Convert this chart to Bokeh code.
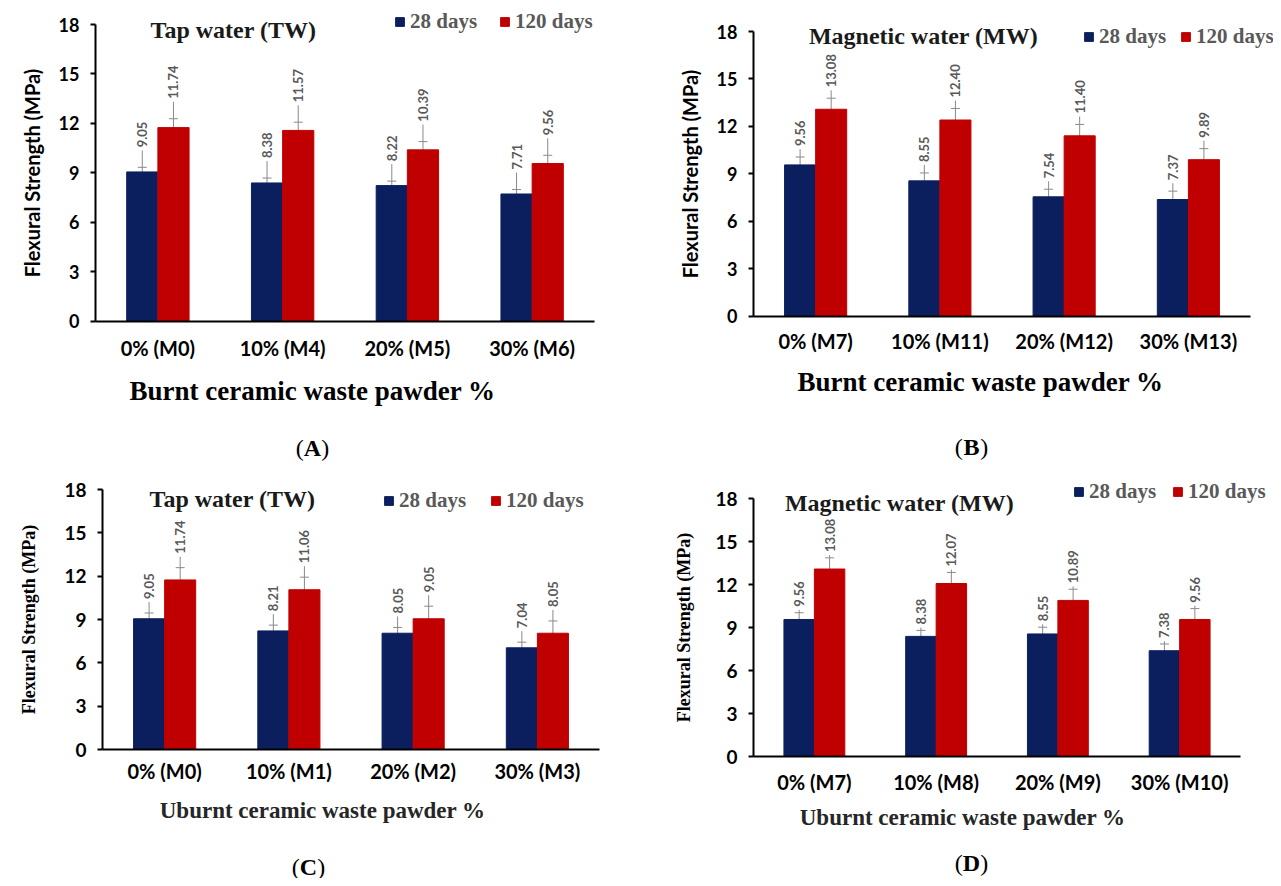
import math
from bokeh.plotting import figure
from bokeh.models import (Range1d, FixedTicker, Whisker, TeeHead, ColumnDataSource,
                          Label, Legend, LegendItem)
from bokeh.transform import dodge
from bokeh.layouts import column, row
from bokeh.core.properties import value
from bokeh.embed import file_html
from bokeh.resources import INLINE

# ---------------- data ----------------
series_names = ["28 days", "120 days"]
y_ticks = [0, 3, 6, 9, 12, 15, 18]

cats_A = ["0% (M0)", "10% (M4)", "20% (M5)", "30% (M6)"]
A_28 = [9.05, 8.38, 8.22, 7.71]
A_120 = [11.74, 11.57, 10.39, 9.56]
A_err28 = [0.28, 0.30, 0.27, 0.27]
A_err120 = [0.54, 0.50, 0.50, 0.50]

cats_B = ["0% (M7)", "10% (M11)", "20% (M12)", "30% (M13)"]
B_28 = [9.56, 8.55, 7.54, 7.37]
B_120 = [13.08, 12.40, 11.40, 9.89]
B_err28 = [0.50, 0.50, 0.48, 0.53]
B_err120 = [0.70, 0.73, 0.72, 0.70]

cats_C = ["0% (M0)", "10% (M1)", "20% (M2)", "30% (M3)"]
C_28 = [9.05, 8.21, 8.05, 7.04]
C_120 = [11.74, 11.06, 9.05, 8.05]
C_err28 = [0.40, 0.40, 0.40, 0.39]
C_err120 = [0.85, 0.87, 0.87, 0.85]

cats_D = ["0% (M7)", "10% (M8)", "20% (M9)", "30% (M10)"]
D_28 = [9.56, 8.38, 8.55, 7.38]
D_120 = [13.08, 12.07, 10.89, 9.56]
D_err28 = [0.47, 0.42, 0.47, 0.47]
D_err120 = [0.78, 0.77, 0.78, 0.76]

titles = ["Tap water (TW)", "Magnetic water (MW)", "Tap water (TW)", "Magnetic water (MW)"]
x_titles = ["Burnt ceramic waste pawder %", "Burnt ceramic waste pawder %",
            "Uburnt  ceramic waste pawder %", "Uburnt  ceramic waste pawder %"]
panel_letters = ["A", "B", "C", "D"]
y_title = "Flexural Strength (MPa)"

# ---------------- style ----------------
BLUE = "#0b1f5f"
RED = "#c00000"
GRAY = "#8a8a8a"
LABEL_GRAY = "#595959"
SANS = "Lato"
SERIF = "Liberation Serif"


def make_panel(cats, v28, v120, e28, e120, title, xtitle, letter, cfg):
    n = len(cats)
    figl, figt, figr, figb = cfg["fig"]
    xl, xr, y18, y0 = cfg["plot"]
    cw = (xr - xl) / n
    k = (y0 - y18) / y_ticks[-1]

    def X(px):
        return (px - xl) / cw

    def Y(py):
        return (y0 - py) / k

    p = figure(x_range=Range1d(X(figl), X(figr)), y_range=Range1d(Y(figb), Y(figt)),
               width=figr - figl, height=figb - figt, min_border=0,
               output_backend="svg", toolbar_location=None)
    p.outline_line_color = None
    p.xgrid.visible = False
    p.ygrid.visible = False
    p.background_fill_color = "white"
    p.border_fill_color = "white"

    lead = cfg["lead"]
    xpos = [i + 0.5 for i in range(n)]
    src = ColumnDataSource(dict(
        xpos=xpos, v28=v28, v120=v120,
        lo28=[v - e for v, e in zip(v28, e28)], up28=[v + e for v, e in zip(v28, e28)],
        lo120=[v - e for v, e in zip(v120, e120)], up120=[v + e for v, e in zip(v120, e120)],
        top28=[v + e + lead for v, e in zip(v28, e28)],
        top120=[v + e + lead for v, e in zip(v120, e120)],
        lab28=["%.2f" % v for v in v28], lab120=["%.2f" % v for v in v120],
    ))
    xb = dodge("xpos", -0.125)
    xrr = dodge("xpos", 0.125)
    r1 = p.vbar(x=xb, top="v28", width=0.25, source=src, fill_color=BLUE, line_color=BLUE)
    r2 = p.vbar(x=xrr, top="v120", width=0.25, source=src, fill_color=RED, line_color=RED)

    for xx, lo, up, top, lab in [(xb, "lo28", "up28", "top28", "lab28"),
                                 (xrr, "lo120", "up120", "top120", "lab120")]:
        w = Whisker(source=src, base=xx, lower=lo, upper=up, line_color=GRAY, line_width=1,
                    upper_head=TeeHead(size=9, line_color=GRAY, line_width=1),
                    lower_head=TeeHead(size=9, line_color=GRAY, line_width=1))
        p.add_layout(w)
        p.segment(x0=xx, y0=up, x1=xx, y1=top, source=src, line_color=GRAY, line_width=1)
        p.text(x=xx, y=top, text=lab, source=src, angle=math.pi / 2, text_align="left",
               text_baseline="middle", y_offset=-3, text_font=value(SANS),
               text_font_style="bold", text_font_size="13px", text_color=LABEL_GRAY)

    # y axis (drawn at the left edge of the first category)
    ax = p.yaxis[0]
    ax.fixed_location = 0
    ax.bounds = (y_ticks[0], y_ticks[-1])
    ax.ticker = FixedTicker(ticks=y_ticks)
    ax.minor_tick_line_color = None
    ax.major_tick_out = 5
    ax.major_tick_in = 0
    ax.major_tick_line_width = 2
    ax.axis_line_width = 2
    ax.axis_line_color = "black"
    ax.major_tick_line_color = "black"
    ax.major_label_text_font = SANS
    ax.major_label_text_font_style = "bold"
    ax.major_label_text_font_size = cfg["ytfs"]
    ax.major_label_text_color = "black"
    ax.major_label_standoff = cfg["ytstand"]
    ax.axis_label = y_title
    ax.axis_label_text_font = cfg["yfont"]
    ax.axis_label_text_font_style = "bold"
    ax.axis_label_text_font_size = cfg["yfs"]
    ax.axis_label_text_color = "black"
    ax.axis_label_standoff = cfg["ystand"]

    # x axis (drawn at y = 0)
    xa = p.xaxis[0]
    xa.fixed_location = 0
    xa.bounds = (0, n)
    xa.ticker = FixedTicker(ticks=xpos)
    xa.major_label_overrides = {x: c for x, c in zip(xpos, cats)}
    xa.major_tick_line_color = None
    xa.major_tick_out = 0
    xa.major_tick_in = 0
    xa.minor_tick_line_color = None
    xa.axis_line_width = 2
    xa.axis_line_color = "black"
    xa.major_label_text_font = SANS
    xa.major_label_text_font_style = "bold"
    xa.major_label_text_font_size = "20px"
    xa.major_label_text_color = "black"
    xa.major_label_standoff = cfg["xstand"]

    # legend
    lx_px, lcy_px = cfg["leg"]
    leg = Legend(items=[LegendItem(label=series_names[0], renderers=[r1]),
                        LegendItem(label=series_names[1], renderers=[r2])],
                 location=(lx_px - figl, figb - (lcy_px + 12)), orientation="horizontal",
                 glyph_width=11, glyph_height=11, label_standoff=5, spacing=cfg["legsp"],
                 padding=0, margin=0, border_line_color=None, background_fill_alpha=0,
                 label_text_font=SERIF, label_text_font_style="bold",
                 label_text_font_size="21px", label_text_color=LABEL_GRAY, label_height=20)
    p.add_layout(leg)

    # panel title inside plot
    tx, ty = cfg["title_at"]
    p.add_layout(Label(x=X(tx), y=Y(ty), text=title, text_font=SERIF, text_font_style="bold",
                       text_font_size="24px", text_color="#1a1a1a",
                       text_align="center", text_baseline="middle"))
    # x axis title
    qx, qy = cfg["xt_at"]
    p.add_layout(Label(x=X(qx), y=Y(qy), text=xtitle, text_font=SERIF, text_font_style="bold",
                       text_font_size=cfg["xtfs"], text_color=cfg["xtcol"],
                       text_align="center", text_baseline="middle"))
    # (A) letter: bold letter, regular parentheses
    lx, ly = cfg["letter_at"]
    half = 8.7
    common = dict(x=X(lx), y=Y(ly), text_font=SERIF, text_font_size="24px",
                  text_color="black", text_baseline="middle")
    p.add_layout(Label(text="(", text_align="right", x_offset=-half, **common))
    p.add_layout(Label(text=letter, text_align="center", text_font_style="bold", **common))
    p.add_layout(Label(text=")", text_align="left", x_offset=half, **common))
    return p


# pixel layout of each panel: figure box, plot box (axis x-span, y of 18 and of 0)
cfgA = dict(fig=(0, 0, 640, 471), plot=(95, 594, 24, 320.5), lead=1.03,
            ytfs="18px", ytstand=11, yfont=SANS, yfs="20px", ystand=12, xstand=15,
            leg=(394, 22), legsp=22, title_at=(233, 29),
            xt_at=(312, 390), xtfs="27px", xtcol="black", letter_at=(312, 447))
cfgB = dict(fig=(640, 0, 1273, 471), plot=(753, 1250, 31, 315.5), lead=0.5,
            ytfs="18px", ytstand=11, yfont=SANS, yfs="20px", ystand=12, xstand=13,
            leg=(1083, 37), legsp=14, title_at=(923, 35),
            xt_at=(980, 381), xtfs="27px", xtcol="black", letter_at=(971, 446))
cfgC = dict(fig=(0, 471, 640, 878), plot=(102, 599, 489, 749), lead=0.76,
            ytfs="19px", ytstand=11, yfont=SERIF, yfs="18px", ystand=22, xstand=9,
            leg=(383, 501), legsp=24, title_at=(232, 498),
            xt_at=(325, 810), xtfs="23px", xtcol="#262626", letter_at=(308, 866))
cfgD = dict(fig=(640, 471, 1273, 878), plot=(753, 1240, 498, 756), lead=0.2,
            ytfs="19px", ytstand=11, yfont=SERIF, yfs="18px", ystand=18, xstand=13,
            leg=(1073, 492), legsp=16, title_at=(899, 502),
            xt_at=(965, 817), xtfs="23px", xtcol="#262626", letter_at=(971, 862))

pA = make_panel(cats_A, A_28, A_120, A_err28, A_err120, titles[0], x_titles[0], panel_letters[0], cfgA)
pB = make_panel(cats_B, B_28, B_120, B_err28, B_err120, titles[1], x_titles[1], panel_letters[1], cfgB)
pC = make_panel(cats_C, C_28, C_120, C_err28, C_err120, titles[2], x_titles[2], panel_letters[2], cfgC)
pD = make_panel(cats_D, D_28, D_120, D_err28, D_err120, titles[3], x_titles[3], panel_letters[3], cfgD)

layout = column(row(pA, pB), row(pC, pD))
open("out.html", "w").write(file_html(layout, INLINE))
